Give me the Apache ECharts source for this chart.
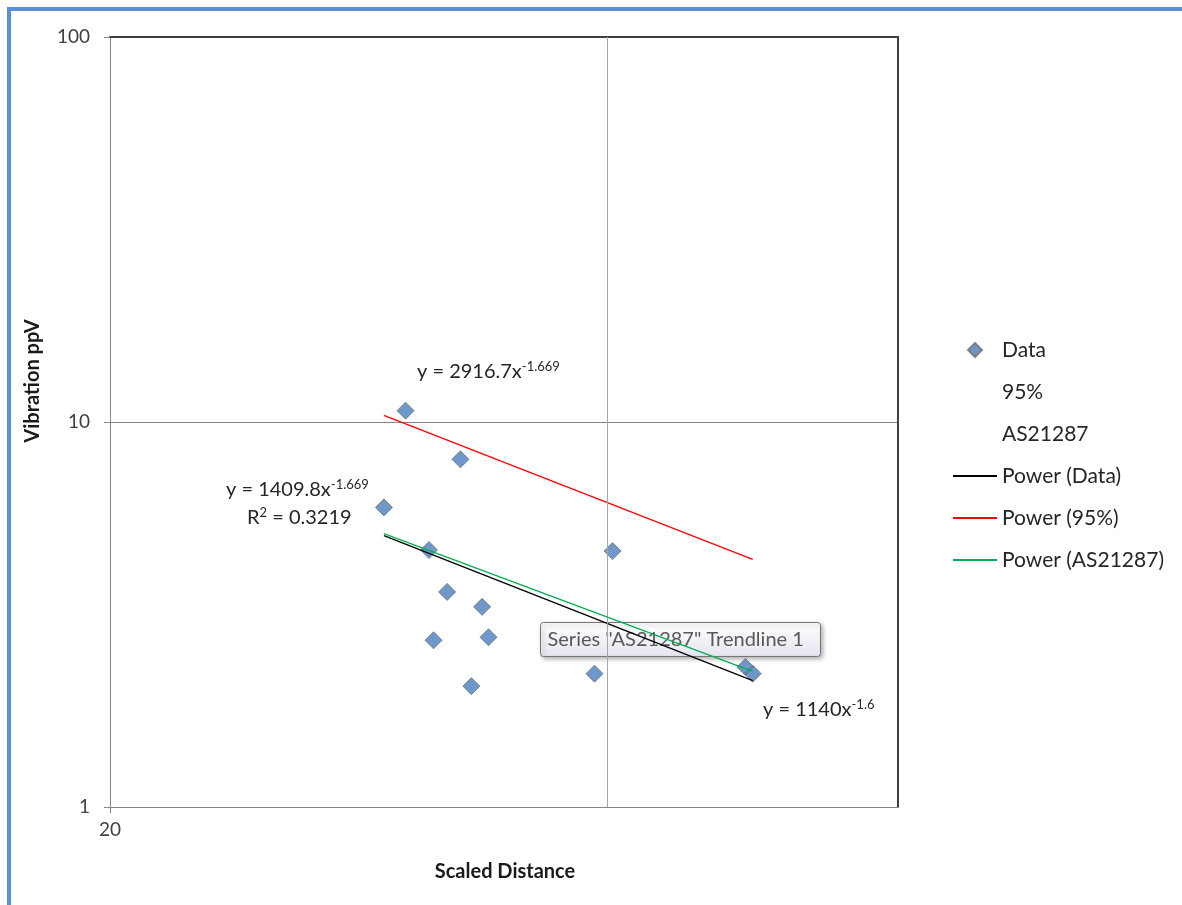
<!DOCTYPE html>
<html>
<head>
<meta charset="utf-8">
<script src="https://cdn.jsdelivr.net/npm/echarts@6/dist/echarts.min.js"></script>
<style>
  html, body { margin: 0; padding: 0; background: #fff; }
  #main { width: 1182px; height: 905px; }
</style>
</head>
<body>
<div id="main"></div>
<script>
// scaled distance / ppV readings
let dataX = [29.3, 30.2, 31.2, 32.6, 32.0, 31.4, 33.6, 33.9, 33.1, 40.3, 39.3, 48.5, 49.0]
let dataY = [6.0, 10.7, 4.65, 8.0, 3.62, 2.71, 3.31, 2.76, 2.06, 4.62, 2.22, 2.31, 2.22]

// trendline end points (straight on log-log)
let fitX = [29.3, 49.0]
let fitData = [5.07, 2.13]      // y = 1409.8x^-1.669
let fit95 = [10.4, 4.40]        // y = 2916.7x^-1.669
let fitAS = [5.13, 2.25]        // y = 1140x^-1.6

let gridX = [40]
let font = 'Lato, "Open Sans", sans-serif'
let textColor = '#262626'

function zip(xs, ys) {
  return xs.map((x, i) => [x, ys[i]])
}

// text with a superscript part, e.g. y = 1140x^-1.6
function eqText(left, top, base, sup, tail) {
  return {
    type: 'text', left: left, top: top, z: 10,
    style: {
      text: '{a|' + base + '}{s|' + sup + '}' + (tail ? '{a|' + tail + '}' : ''),
      rich: {
        a: { fontSize: 20, fontFamily: font, fill: textColor, lineHeight: 24 },
        s: { fontSize: 13, fontFamily: font, fill: textColor, lineHeight: 14, verticalAlign: 'top' }
      }
    }
  }
}

let chart = echarts.init(document.getElementById('main'))

let hideDot = { opacity: 0 }

let option = {
  backgroundColor: '#fff',
  animation: false,
  textStyle: { fontFamily: font },
  grid: { left: 110, right: 284, top: 37, bottom: 98 },
  legend: {
    orient: 'vertical',
    left: 947,
    top: 334,
    itemWidth: 44,
    itemHeight: 14,
    itemGap: 20,
    symbolKeepAspect: true,
    textStyle: { fontSize: 21, color: textColor, lineHeight: 22, fontFamily: font },
    data: [
      { name: 'Data', icon: 'path://M0,-1L1,0L0,1L-1,0Z' },
      { name: '95%' },
      { name: 'AS21287' },
      { name: 'Power (Data)', itemStyle: hideDot },
      { name: 'Power (95%)', itemStyle: hideDot },
      { name: 'Power (AS21287)', itemStyle: hideDot }
    ]
  },
  xAxis: [{
    type: 'log',
    logBase: 2,
    min: 20,
    max: 60,
    axisLine: { lineStyle: { color: '#868686', width: 1 } },
    axisTick: { show: true, customValues: [20], length: 6, lineStyle: { color: '#868686' } },
    axisLabel: {
      fontSize: 19, color: '#404040', margin: 13,
      formatter: v => Math.abs(v - 20) < 0.01 ? '20' : ''
    },
    splitLine: { show: false }
  }, {
    type: 'log',
    logBase: 2,
    min: 20,
    max: 60,
    position: 'top',
    axisLine: { lineStyle: { color: '#404040', width: 2 } },
    axisTick: { show: false },
    axisLabel: { show: false },
    splitLine: { show: false }
  }],
  yAxis: [{
    type: 'log',
    logBase: 10,
    min: 1,
    max: 100,
    axisLine: { show: true, lineStyle: { color: '#868686', width: 1 } },
    axisTick: { show: true, length: 6, lineStyle: { color: '#868686' } },
    axisLabel: { fontSize: 19, color: '#404040', margin: 20 },
    splitLine: { show: true, lineStyle: { color: '#868686', width: 1 } }
  }, {
    type: 'log',
    logBase: 10,
    min: 1,
    max: 100,
    position: 'right',
    axisLine: { show: true, lineStyle: { color: '#404040', width: 2 } },
    axisTick: { show: false },
    axisLabel: { show: false },
    splitLine: { show: false }
  }],
  series: [
    {
      name: 'Data',
      type: 'scatter',
      symbol: 'diamond',
      symbolSize: 17,
      itemStyle: { color: '#4a7ebb', borderColor: '#6f6f6f', borderWidth: 1 },
      data: zip(dataX, dataY),
      markLine: {
        silent: true,
        symbol: 'none',
        label: { show: false },
        lineStyle: { color: '#a6a6a6', width: 1, type: 'solid' },
        data: gridX.map(v => ({ xAxis: v }))
      },
      z: 3
    },
    { name: '95%', type: 'scatter', itemStyle: { color: 'rgba(0,0,0,0)' }, data: [] },
    { name: 'AS21287', type: 'scatter', itemStyle: { color: 'rgba(0,0,0,0)' }, data: [] },
    {
      name: 'Power (Data)', type: 'line', symbol: 'none', showSymbol: false,
      lineStyle: { color: '#000', width: 1.3 }, itemStyle: { color: '#000', opacity: 0 },
      data: zip(fitX, fitData), z: 4
    },
    {
      name: 'Power (95%)', type: 'line', symbol: 'none', showSymbol: false,
      lineStyle: { color: '#ff0000', width: 1.3 }, itemStyle: { color: '#ff0000', opacity: 0 },
      data: zip(fitX, fit95), z: 4
    },
    {
      name: 'Power (AS21287)', type: 'line', symbol: 'none', showSymbol: false,
      lineStyle: { color: '#00b050', width: 1.3 }, itemStyle: { color: '#00b050', opacity: 0 },
      data: zip(fitX, fitAS), z: 5
    }
  ],
  graphic: [
    // outer frame
    { type: 'line', shape: { x1: 7, y1: 9, x2: 1182, y2: 9 }, style: { stroke: '#5b8fd6', lineWidth: 4 } },
    { type: 'line', shape: { x1: 9, y1: 7, x2: 9, y2: 905 }, style: { stroke: '#5b8fd6', lineWidth: 4 } },
    // axis titles
    {
      type: 'text', x: 33, y: 381, rotation: Math.PI / 2,
      style: {
        text: 'Vibration ppV', fontSize: 20, fontWeight: 'bold', fontFamily: font,
        fill: '#1a1a1a', align: 'center', verticalAlign: 'middle'
      }
    },
    {
      type: 'text', x: 505, y: 872,
      style: {
        text: 'Scaled Distance', fontSize: 20, fontWeight: 'bold', fontFamily: font,
        fill: '#1a1a1a', align: 'center', verticalAlign: 'middle'
      }
    },
    // trendline equations
    eqText(417, 360, 'y = 2916.7x', '-1.669'),
    eqText(226, 478, 'y = 1409.8x', '-1.669'),
    eqText(247, 506, 'R', '2', ' = 0.3219'),
    eqText(763, 698, 'y = 1140x', '-1.6'),
    // hover box left in the screenshot
    {
      type: 'group', left: 540, top: 622, z: 20,
      children: [
        {
          type: 'rect',
          shape: { x: 0, y: 0, width: 280, height: 34, r: 3 },
          style: {
            fill: new echarts.graphic.LinearGradient(0, 0, 0, 1, [
              { offset: 0, color: '#ffffff' },
              { offset: 1, color: '#e4e5f0' }
            ]),
            stroke: '#767676',
            lineWidth: 1,
            shadowBlur: 4,
            shadowOffsetX: 2,
            shadowOffsetY: 2,
            shadowColor: 'rgba(0,0,0,0.3)'
          }
        },
        {
          type: 'text', x: 7, y: 17,
          style: {
            text: 'Series "AS21287" Trendline 1',
            fontSize: 20, fontFamily: font, fill: '#595959', verticalAlign: 'middle'
          }
        }
      ]
    }
  ]
}

chart.setOption(option)
</script>
</body>
</html>
